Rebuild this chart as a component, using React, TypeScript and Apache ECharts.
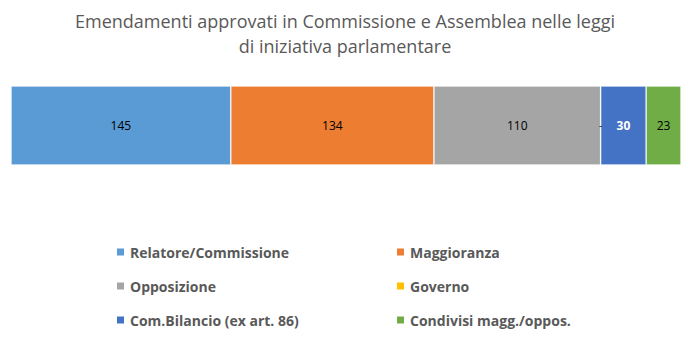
import React, { useEffect, useRef } from "react";
import * as echarts from "echarts";

const titleText = "Emendamenti approvati in Commissione e Assemblea nelle leggi\ndi iniziativa parlamentare";
const seriesNames = [
  "Relatore/Commissione",
  "Maggioranza",
  "Opposizione",
  "Governo",
  "Com.Bilancio (ex art. 86)",
  "Condivisi magg./oppos.",
];
const seriesValues = [145, 134, 110, 0, 30, 23];
const seriesColors = ["#5B9BD5", "#ED7D31", "#A5A5A5", "#FFC000", "#4472C4", "#70AD47"];
const labelColors = ["#000000", "#000000", "#000000", "#404040", "#FFFFFF", "#000000"];
const labelWeights = ["normal", "normal", "normal", "normal", "bold", "normal"];
const category = ["Totale"];

export default function App() {
  const ref = useRef<HTMLDivElement>(null);
  useEffect(() => {
    if (!ref.current) return;
    const chart = echarts.init(ref.current, undefined, { renderer: "svg" });
    const total = seriesValues.reduce((a, b) => a + b, 0);
    const legendText = {
      color: "#595959",
      fontSize: 14,
      fontWeight: "bold" as const,
      fontFamily: "Open Sans",
    };
    chart.setOption({
      animation: false,
      title: {
        text: titleText,
        left: "center",
        top: 3,
        textStyle: {
          color: "#595959",
          fontSize: 18,
          fontWeight: "normal",
          fontFamily: "Open Sans",
          lineHeight: 25,
        },
      },
      grid: { left: 11, right: 9, top: 86, height: 79, containLabel: false },
      xAxis: { type: "value", min: 0, max: total, show: false },
      yAxis: { type: "category", data: category, show: false },
      legend: [
        {
          data: [seriesNames[0], seriesNames[2], seriesNames[4]],
          orient: "vertical",
          left: 110,
          top: 240,
          itemWidth: 9,
          itemHeight: 9,
          itemGap: 20,
          icon: "rect",
          textStyle: legendText,
        },
        {
          data: [seriesNames[1], seriesNames[3], seriesNames[5]],
          orient: "vertical",
          left: 390,
          top: 240,
          itemWidth: 9,
          itemHeight: 9,
          itemGap: 20,
          icon: "rect",
          textStyle: legendText,
        },
      ],
      series: seriesNames.map((name, i) => ({
        name,
        type: "bar",
        stack: "total",
        barWidth: "100%",
        data: [seriesValues[i]],
        itemStyle: { color: seriesColors[i], borderColor: "#ffffff", borderWidth: 0.6 },
        label: {
          show: true,
          position: "inside",
          color: labelColors[i],
          fontSize: 12,
          fontWeight: labelWeights[i],
          fontFamily: "Open Sans",
          formatter: (p: any) => (p.value === 0 ? "-" : String(p.value)),
        },
      })),
    });
    return () => chart.dispose();
  }, []);
  return <div ref={ref} style={{ width: 690, height: 361, margin: -8 }} />;
}
